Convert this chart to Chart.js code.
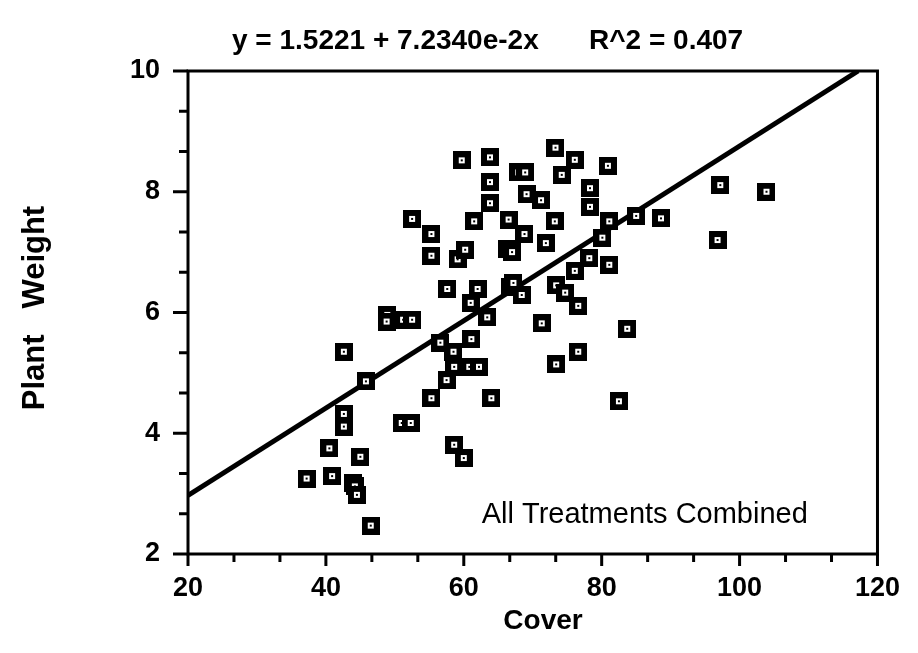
<!DOCTYPE html>
<html>
<head>
<meta charset="utf-8">
<script src="https://cdn.jsdelivr.net/npm/chart.js@4.4.0/dist/chart.umd.min.js"></script>
<style>
  html, body { margin: 0; padding: 0; background: #fff; }
</style>
</head>
<body>
<canvas id="cover-chart" width="918" height="653"></canvas>
<script>
// values
const coverValues = [
  37.2, 40.5, 40.9, 42.6, 42.6, 42.6, 44.0, 44.2, 44.5, 45.0,
  45.8, 46.5, 48.9, 48.8, 51.2, 52.5, 51.0, 52.3, 52.5, 55.3,
  55.3, 55.3, 56.6, 57.5, 57.6, 58.5, 58.6, 58.6, 59.1, 59.7,
  60.0, 60.2, 60.8, 61.0, 61.1, 61.5, 62.0, 62.2, 63.4, 63.8,
  63.8, 63.8, 64.0, 66.3, 67.0, 66.5, 66.7, 67.2, 67.9, 68.9,
  68.4, 68.8, 69.1, 71.2, 71.3, 71.9, 73.3, 73.2, 73.4, 73.4,
  74.2, 74.7, 76.1, 76.1, 76.6, 76.6, 78.3, 78.3, 78.2, 80.1,
  80.9, 81.1, 81.1, 82.5, 83.7, 85.0, 88.6, 96.8, 97.2, 103.9
];
const weightValues = [
  3.25, 3.75, 3.29, 5.35, 4.32, 4.11, 3.17, 3.12, 2.98, 3.61,
  4.86, 2.47, 5.96, 5.85, 5.88, 5.88, 4.17, 4.17, 7.55, 7.30,
  6.94, 4.58, 5.50, 4.88, 6.39, 5.35, 5.10, 3.81, 6.88, 8.52,
  3.59, 7.04, 5.10, 6.16, 5.56, 7.51, 6.39, 5.10, 5.92, 8.57,
  8.16, 7.81, 4.58, 7.05, 7.00, 7.54, 6.42, 6.49, 8.32, 8.32,
  6.29, 7.30, 7.96, 7.86, 5.82, 7.15, 8.73, 7.51, 6.45, 5.14,
  8.28, 6.33, 8.53, 6.69, 6.11, 5.35, 8.06, 7.75, 6.90, 7.24,
  8.43, 7.51, 6.79, 4.53, 5.73, 7.60, 7.56, 7.20, 8.11, 8.00
];
const xTickValues = [20, 40, 60, 80, 100, 120];
const yTickValues = [2, 4, 6, 8, 10];
const intercept = 1.5221;
const slope = 7.2340e-2;
const fitText = 'y = 1.5221 + 7.2340e-2x';
const r2Text = 'R^2 = 0.407';
const xTitle = 'Cover';
const yTitle = 'Plant   Weight';
const noteText = 'All Treatments Combined';

const FONT = '"Liberation Sans", Arial, Helvetica, sans-serif';

// square marker: black block, white ring, black centre
function makeMarker() {
  const c = document.createElement('canvas');
  c.width = 18; c.height = 18;
  const g = c.getContext('2d');
  g.fillStyle = '#000';
  g.fillRect(0, 0, 18, 18);
  g.fillStyle = '#fff';
  g.fillRect(6, 6, 6, 6);
  g.fillStyle = '#000';
  g.fillRect(8, 8, 2, 2);
  return c;
}

const points = coverValues.map((x, i) => ({ x: x, y: weightValues[i] }));
const yTop = yTickValues[yTickValues.length - 1];
const fitLine = [
  { x: xTickValues[0], y: intercept + slope * xTickValues[0] },
  { x: (yTop - intercept) / slope, y: yTop }
];

const framePlugin = {
  id: 'frame',
  afterDraw(chart) {
    const ctx = chart.ctx;
    const a = chart.chartArea;
    const xs = chart.scales.x, ys = chart.scales.y;
    ctx.save();
    ctx.strokeStyle = '#000';
    ctx.lineWidth = 3;
    ctx.strokeRect(a.left, a.top, a.right - a.left, a.bottom - a.top);

    // tick marks, two minor ones between majors
    ctx.beginPath();
    for (let i = 0; i < xTickValues.length; i++) {
      const v = xTickValues[i];
      const px = xs.getPixelForValue(v);
      ctx.moveTo(px, a.bottom); ctx.lineTo(px, a.bottom + 12);
      if (i < xTickValues.length - 1) {
        const step = (xTickValues[i + 1] - v) / 3;
        for (let k = 1; k < 3; k++) {
          const mx = xs.getPixelForValue(v + step * k);
          ctx.moveTo(mx, a.bottom); ctx.lineTo(mx, a.bottom + 8);
        }
      }
    }
    for (let i = 0; i < yTickValues.length; i++) {
      const v = yTickValues[i];
      const py = ys.getPixelForValue(v);
      ctx.moveTo(a.left, py); ctx.lineTo(a.left - 15, py);
      if (i < yTickValues.length - 1) {
        const step = (yTickValues[i + 1] - v) / 3;
        for (let k = 1; k < 3; k++) {
          const my = ys.getPixelForValue(v + step * k);
          ctx.moveTo(a.left, my); ctx.lineTo(a.left - 9, my);
        }
      }
    }
    ctx.stroke();

    ctx.fillStyle = '#000';
    // regression equation above the plot
    ctx.font = 'bold 28px ' + FONT;
    ctx.textBaseline = 'alphabetic';
    ctx.textAlign = 'left';
    ctx.fillText(fitText, 232, 49);
    ctx.fillText(r2Text, 589, 49);

    // note inside the plot
    ctx.font = '29px ' + FONT;
    ctx.fillText(noteText, xs.getPixelForValue(62.6), ys.getPixelForValue(2.51));

    // axis titles
    ctx.font = 'bold 28px ' + FONT;
    ctx.textAlign = 'center';
    ctx.textBaseline = 'middle';
    ctx.fillText(xTitle, 543, 621);
    ctx.font = 'bold 31px ' + FONT;
    ctx.translate(35, 308);
    ctx.rotate(-Math.PI / 2);
    ctx.fillText(yTitle, 0, 0);
    ctx.restore();
  }
};

new Chart(document.getElementById('cover-chart').getContext('2d'), {
  type: 'scatter',
  data: {
    datasets: [
      {
        type: 'line',
        data: fitLine,
        borderColor: '#000',
        borderWidth: 5,
        pointRadius: 0,
        fill: false,
        order: 2
      },
      {
        data: points,
        pointStyle: makeMarker(),
        pointRadius: 9,
        order: 1
      }
    ]
  },
  options: {
    responsive: false,
    animation: false,
    events: [],
    layout: { padding: { top: 71, right: 31, bottom: 0, left: 0 } },
    plugins: { legend: { display: false }, title: { display: false }, tooltip: { enabled: false } },
    scales: {
      x: {
        type: 'linear',
        min: xTickValues[0],
        max: xTickValues[xTickValues.length - 1],
        afterBuildTicks: (s) => { s.ticks = xTickValues.map(v => ({ value: v })); },
        afterFit: (s) => { s.height = 99; },
        grid: { display: false, drawTicks: false },
        border: { display: false },
        ticks: {
          autoSkip: false, maxRotation: 0, padding: 18, color: '#000',
          font: { family: FONT, size: 27, weight: 'bold' }
        }
      },
      y: {
        type: 'linear',
        min: yTickValues[0],
        max: yTickValues[yTickValues.length - 1],
        afterBuildTicks: (s) => { s.ticks = yTickValues.map(v => ({ value: v })); },
        afterFit: (s) => { s.width = 188; },
        grid: { display: false, drawTicks: false },
        border: { display: false },
        ticks: {
          autoSkip: false, padding: 28, color: '#000',
          font: { family: FONT, size: 27, weight: 'bold' }
        }
      }
    }
  },
  plugins: [framePlugin]
});
</script>
</body>
</html>
